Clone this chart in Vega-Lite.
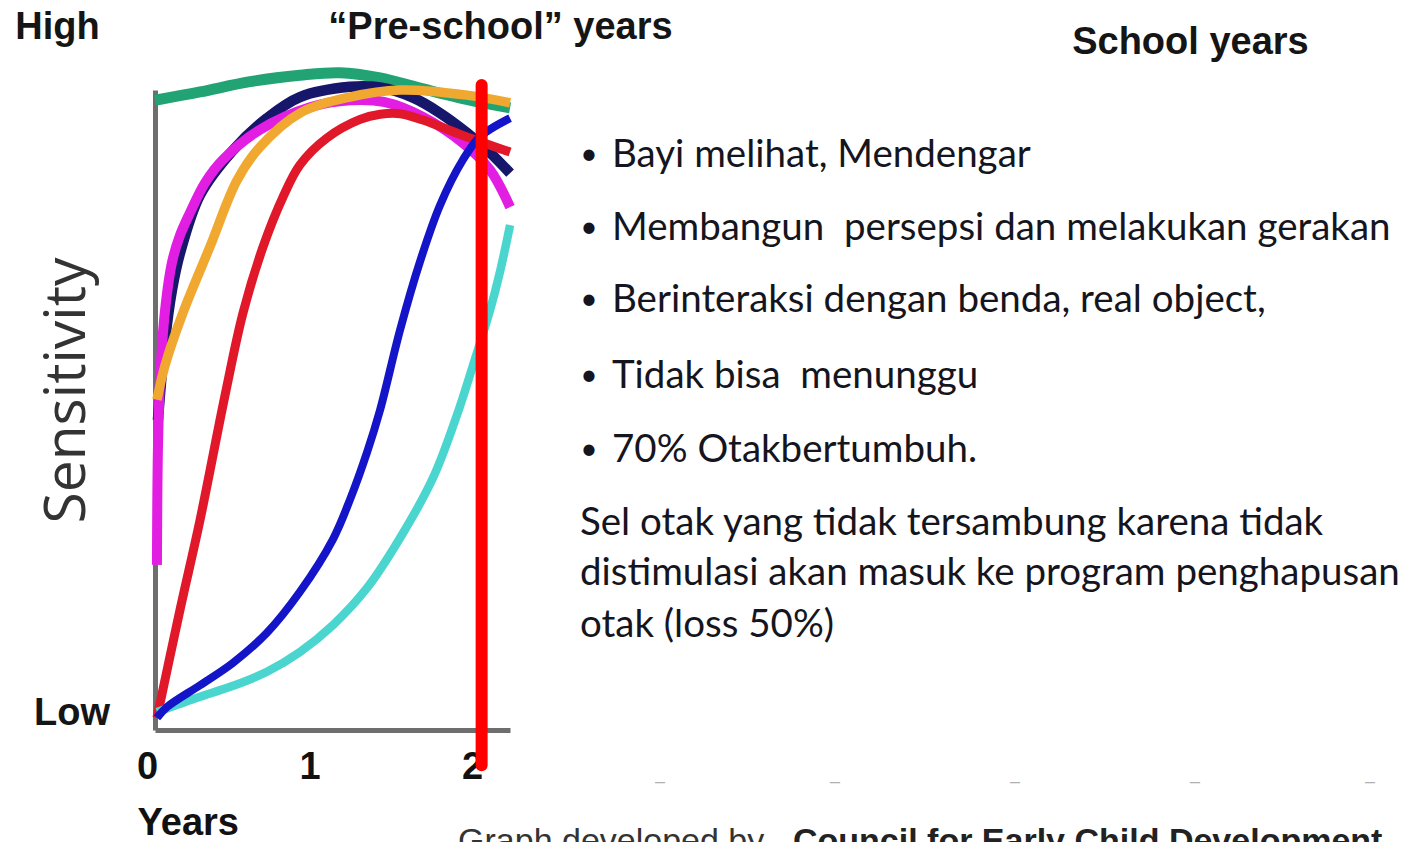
{
  "$schema": "https://vega.github.io/schema/vega-lite/v6.json",
  "width": 355,
  "height": 640,
  "autosize": {"type": "none"},
  "padding": {"left": 155, "top": 90, "right": 906, "bottom": 112},
  "background": "#ffffff",
  "config": {"view": {"stroke": null}},
  "datasets": {
    "curves": [
      {"series": "green", "x": 0.0, "y": 98.4},
      {"series": "green", "x": 0.277, "y": 99.7},
      {"series": "green", "x": 0.585, "y": 101.3},
      {"series": "green", "x": 0.892, "y": 102.3},
      {"series": "green", "x": 1.138, "y": 102.7},
      {"series": "green", "x": 1.385, "y": 101.9},
      {"series": "green", "x": 1.631, "y": 100.3},
      {"series": "green", "x": 1.938, "y": 98.4},
      {"series": "green", "x": 2.185, "y": 97.2},
      {"series": "navy", "x": 0.018, "y": 48.4},
      {"series": "navy", "x": 0.062, "y": 60.9},
      {"series": "navy", "x": 0.105, "y": 68.8},
      {"series": "navy", "x": 0.154, "y": 74.5},
      {"series": "navy", "x": 0.277, "y": 83.6},
      {"series": "navy", "x": 0.48, "y": 90.6},
      {"series": "navy", "x": 0.689, "y": 95.6},
      {"series": "navy", "x": 0.892, "y": 98.9},
      {"series": "navy", "x": 1.2, "y": 100.5},
      {"series": "navy", "x": 1.385, "y": 100.4},
      {"series": "navy", "x": 1.588, "y": 98.8},
      {"series": "navy", "x": 1.754, "y": 96.4},
      {"series": "navy", "x": 1.92, "y": 93.3},
      {"series": "navy", "x": 2.062, "y": 90.2},
      {"series": "navy", "x": 2.185, "y": 87.0},
      {"series": "magenta", "x": 0.012, "y": 25.8},
      {"series": "magenta", "x": 0.018, "y": 43.8},
      {"series": "magenta", "x": 0.031, "y": 54.7},
      {"series": "magenta", "x": 0.062, "y": 65.6},
      {"series": "magenta", "x": 0.105, "y": 73.1},
      {"series": "magenta", "x": 0.154, "y": 77.3},
      {"series": "magenta", "x": 0.215, "y": 80.8},
      {"series": "magenta", "x": 0.308, "y": 85.5},
      {"series": "magenta", "x": 0.418, "y": 89.1},
      {"series": "magenta", "x": 0.646, "y": 93.8},
      {"series": "magenta", "x": 0.954, "y": 97.3},
      {"series": "magenta", "x": 1.2, "y": 98.4},
      {"series": "magenta", "x": 1.415, "y": 98.1},
      {"series": "magenta", "x": 1.649, "y": 95.8},
      {"series": "magenta", "x": 1.895, "y": 91.7},
      {"series": "magenta", "x": 2.062, "y": 87.5},
      {"series": "magenta", "x": 2.185, "y": 81.7},
      {"series": "orange", "x": 0.012, "y": 51.6},
      {"series": "orange", "x": 0.062, "y": 57.0},
      {"series": "orange", "x": 0.172, "y": 65.2},
      {"series": "orange", "x": 0.338, "y": 75.5},
      {"series": "orange", "x": 0.505, "y": 85.9},
      {"series": "orange", "x": 0.646, "y": 91.1},
      {"series": "orange", "x": 0.892, "y": 96.4},
      {"series": "orange", "x": 1.2, "y": 98.9},
      {"series": "orange", "x": 1.508, "y": 100.0},
      {"series": "orange", "x": 1.92, "y": 99.2},
      {"series": "orange", "x": 2.185, "y": 98.0},
      {"series": "red", "x": 0.012, "y": 1.9},
      {"series": "red", "x": 0.154, "y": 18.8},
      {"series": "red", "x": 0.277, "y": 32.8},
      {"series": "red", "x": 0.431, "y": 52.3},
      {"series": "red", "x": 0.542, "y": 65.2},
      {"series": "red", "x": 0.665, "y": 75.5},
      {"series": "red", "x": 0.788, "y": 83.3},
      {"series": "red", "x": 0.892, "y": 88.3},
      {"series": "red", "x": 1.058, "y": 92.5},
      {"series": "red", "x": 1.262, "y": 95.4},
      {"series": "red", "x": 1.385, "y": 96.2},
      {"series": "red", "x": 1.508, "y": 96.3},
      {"series": "red", "x": 1.649, "y": 95.3},
      {"series": "red", "x": 1.895, "y": 92.9},
      {"series": "red", "x": 2.185, "y": 90.3},
      {"series": "turquoise", "x": 0.012, "y": 2.8},
      {"series": "turquoise", "x": 0.277, "y": 5.2},
      {"series": "turquoise", "x": 0.48, "y": 6.9},
      {"series": "turquoise", "x": 0.689, "y": 9.1},
      {"series": "turquoise", "x": 0.892, "y": 12.2},
      {"series": "turquoise", "x": 1.095, "y": 16.4},
      {"series": "turquoise", "x": 1.305, "y": 22.2},
      {"series": "turquoise", "x": 1.508, "y": 30.0},
      {"series": "turquoise", "x": 1.711, "y": 39.4},
      {"series": "turquoise", "x": 1.858, "y": 49.2},
      {"series": "turquoise", "x": 1.957, "y": 57.0},
      {"series": "turquoise", "x": 2.062, "y": 65.6},
      {"series": "turquoise", "x": 2.123, "y": 71.6},
      {"series": "turquoise", "x": 2.185, "y": 78.9},
      {"series": "blue", "x": 0.012, "y": 1.9},
      {"series": "blue", "x": 0.074, "y": 3.6},
      {"series": "blue", "x": 0.277, "y": 7.0},
      {"series": "blue", "x": 0.48, "y": 10.5},
      {"series": "blue", "x": 0.689, "y": 15.2},
      {"series": "blue", "x": 0.892, "y": 21.6},
      {"series": "blue", "x": 1.095, "y": 29.8},
      {"series": "blue", "x": 1.2, "y": 36.0},
      {"series": "blue", "x": 1.305, "y": 43.4},
      {"series": "blue", "x": 1.385, "y": 50.0},
      {"series": "blue", "x": 1.508, "y": 62.5},
      {"series": "blue", "x": 1.631, "y": 73.2},
      {"series": "blue", "x": 1.754, "y": 82.0},
      {"series": "blue", "x": 1.895, "y": 89.1},
      {"series": "blue", "x": 2.0, "y": 92.7},
      {"series": "blue", "x": 2.185, "y": 95.6}
    ],
    "marker": [{"x": 2.01, "y": 100.8, "y2": -5.5}],
    "texts": [
      {"kind": "head", "label": "High", "x": -0.6, "y": 109.7},
      {"kind": "head", "label": "Low", "x": -0.511, "y": 2.5},
      {"kind": "head", "label": "“Pre-school” years", "x": 2.126, "y": 109.7},
      {"kind": "head", "label": "School years", "x": 6.372, "y": 107.4},
      {"kind": "bullet", "label": "•", "x": 2.6708, "y": 89.84},
      {"kind": "bullet", "label": "•", "x": 2.6708, "y": 78.44},
      {"kind": "bullet", "label": "•", "x": 2.6708, "y": 67.19},
      {"kind": "bullet", "label": "•", "x": 2.6708, "y": 55.31},
      {"kind": "bullet", "label": "•", "x": 2.6708, "y": 43.75},
      {"kind": "body", "label": "Bayi melihat, Mendengar", "x": 2.8123, "y": 89.84},
      {"kind": "body", "label": "Membangun\u00a0 persepsi dan melakukan gerakan", "x": 2.8123, "y": 78.44},
      {"kind": "body", "label": "Berinteraksi dengan benda, real object,", "x": 2.8123, "y": 67.19},
      {"kind": "body", "label": "Tidak bisa\u00a0 menunggu", "x": 2.8123, "y": 55.31},
      {"kind": "body", "label": "70% Otakbertumbuh.", "x": 2.8123, "y": 43.75},
      {"kind": "body", "label": "Sel otak yang tidak tersambung karena tidak", "x": 2.6154, "y": 32.34},
      {"kind": "body", "label": "distimulasi akan masuk ke program penghapusan", "x": 2.6154, "y": 24.53},
      {"kind": "body", "label": "otak (loss 50%)", "x": 2.6154, "y": 16.41},
      {"kind": "credit", "label": "Graph developed by", "x": 1.865, "y": -19.06},
      {"kind": "creditBold", "label": "Council for Early Child Development", "x": 3.926, "y": -19.06},
      {"kind": "dash", "label": "–", "x": 3.108, "y": -8.1},
      {"kind": "dash", "label": "–", "x": 4.185, "y": -8.1},
      {"kind": "dash", "label": "–", "x": 5.292, "y": -8.1},
      {"kind": "dash", "label": "–", "x": 6.4, "y": -8.1},
      {"kind": "dash", "label": "–", "x": 7.477, "y": -8.1}
    ]
  },
  "encoding": {
    "x": {
      "field": "x",
      "type": "quantitative",
      "scale": {"domain": [0, 2.1846], "nice": false, "zero": false},
      "axis": {
        "values": [0, 1, 2],
        "title": "Years",
        "grid": false,
        "ticks": false,
        "domainColor": "#6e6e6e",
        "domainWidth": 5,
        "labelFont": "Liberation Sans",
        "labelFontWeight": "bold",
        "labelFontSize": 38,
        "labelColor": "#111111",
        "labelPadding": 18,
        "labelOffset": -8,
        "labelFlush": false,
        "labelOverlap": false,
        "titleFont": "Liberation Sans",
        "titleFontWeight": "bold",
        "titleFontSize": 38,
        "titleColor": "#111111",
        "titleAlign": "left",
        "titleX": -18,
        "titleY": 93,
        "titleBaseline": "middle"
      }
    },
    "y": {
      "field": "y",
      "type": "quantitative",
      "scale": {"domain": [0, 100], "nice": false, "zero": false},
      "axis": {
        "title": "Sensitivity",
        "grid": false,
        "ticks": false,
        "labels": false,
        "domainColor": "#6e6e6e",
        "domainWidth": 5,
        "titleFont": "Open Sans",
        "titleFontWeight": "normal",
        "titleFontSize": 57,
        "titleColor": "#333333",
        "titleAngle": -90,
        "titleAlign": "center",
        "titleBaseline": "middle",
        "titleX": -88,
        "titleY": 300
      }
    }
  },
  "layer": [
    {
      "data": {"name": "curves"},
      "mark": {"type": "line", "interpolate": "catmull-rom", "strokeCap": "butt"},
      "encoding": {
        "color": {
          "field": "series",
          "type": "nominal",
          "scale": {
            "domain": ["green", "navy", "magenta", "orange", "red", "turquoise", "blue"],
            "range": ["#22a374", "#16166a", "#e31ee3", "#f0a830", "#e0182a", "#4ad6ce", "#1414c8"]
          },
          "legend": null
        },
        "strokeWidth": {
          "field": "series",
          "type": "ordinal",
          "scale": {
            "domain": ["green", "navy", "magenta", "orange", "red", "turquoise", "blue"],
            "range": [11, 8, 9, 6, 5.5, 5, 6.5]
          },
          "legend": null
        }
      }
    },
    {
      "data": {"name": "marker"},
      "mark": {"type": "rule", "color": "#ff0000", "strokeWidth": 12, "strokeCap": "round"},
      "encoding": {"y2": {"field": "y2"}}
    },
    {
      "data": {"name": "texts"},
      "transform": [{"filter": "datum.kind === 'head'"}],
      "mark": {"type": "text", "font": "Liberation Sans", "fontWeight": "bold", "fontSize": 38, "color": "#151515", "align": "center", "baseline": "middle"},
      "encoding": {"text": {"field": "label"}}
    },
    {
      "data": {"name": "texts"},
      "transform": [{"filter": "datum.kind === 'bullet'"}],
      "mark": {"type": "text", "font": "Lato", "fontSize": 30, "color": "#151520", "align": "center", "baseline": "middle"},
      "encoding": {"text": {"field": "label"}}
    },
    {
      "data": {"name": "texts"},
      "transform": [{"filter": "datum.kind === 'body'"}],
      "mark": {"type": "text", "font": "Lato", "fontSize": 38.5, "color": "#151520", "align": "left", "baseline": "middle"},
      "encoding": {"text": {"field": "label"}}
    },
    {
      "data": {"name": "texts"},
      "transform": [{"filter": "datum.kind === 'credit'"}],
      "mark": {"type": "text", "font": "Liberation Sans", "fontSize": 34, "color": "#333333", "align": "left", "baseline": "alphabetic"},
      "encoding": {"text": {"field": "label"}}
    },
    {
      "data": {"name": "texts"},
      "transform": [{"filter": "datum.kind === 'creditBold'"}],
      "mark": {"type": "text", "font": "Liberation Sans", "fontWeight": "bold", "fontSize": 34, "color": "#222222", "align": "left", "baseline": "alphabetic"},
      "encoding": {"text": {"field": "label"}}
    },
    {
      "data": {"name": "texts"},
      "transform": [{"filter": "datum.kind === 'dash'"}],
      "mark": {"type": "text", "font": "Liberation Sans", "fontSize": 18, "color": "#b0b0b0", "align": "center", "baseline": "middle"},
      "encoding": {"text": {"field": "label"}}
    }
  ]
}
